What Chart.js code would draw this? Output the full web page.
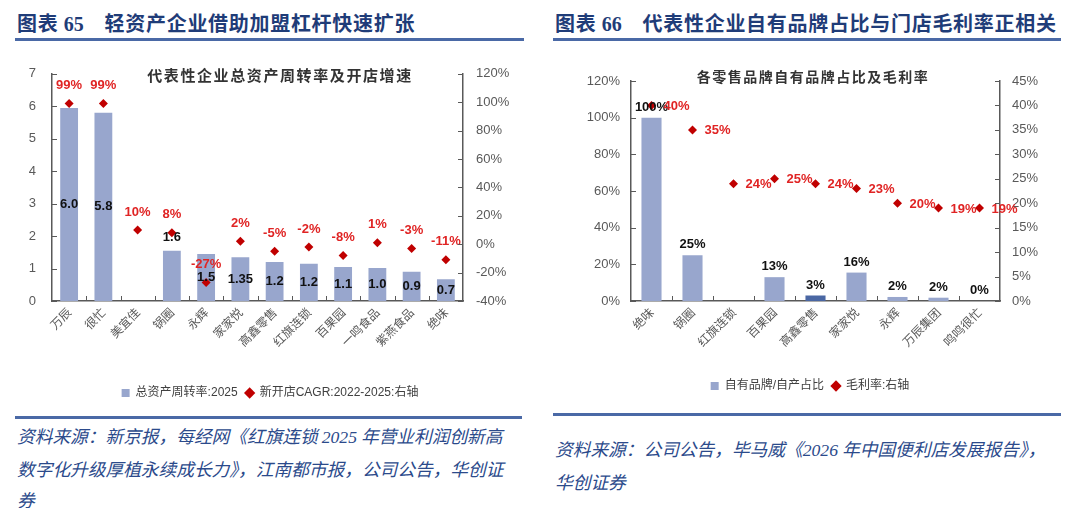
<!DOCTYPE html>
<html lang="zh-CN">
<head>
<meta charset="utf-8">
<script src="https://cdn.jsdelivr.net/npm/chart.js@4.4.1/dist/chart.umd.min.js"></script>
<style>
body{margin:0;width:1080px;height:508px;background:#fff;position:relative;overflow:hidden;font-family:"Noto Sans CJK SC",sans-serif;}
.ttl{position:absolute;top:9px;font-size:20px;font-weight:bold;color:#1F3C78;white-space:nowrap;line-height:28px;letter-spacing:0.7px}
.ttl .num{font-family:"Liberation Serif",serif;letter-spacing:0}
.rule{position:absolute;height:3px;background:#4A69A6}
.inner{position:absolute;font-weight:bold;color:#333;white-space:nowrap;text-align:center;line-height:20px}
.src{position:absolute;font-size:17.7px;font-style:italic;color:#2B4A8B;line-height:31px;white-space:nowrap}
.src .num{font-family:"Liberation Serif",serif}
canvas{position:absolute;top:50px}
</style>
</head>
<body>
<div class="ttl" style="left:17px">图表 <span class="num">65</span>&nbsp;&nbsp;&nbsp;&nbsp;轻资产企业借助加盟杠杆快速扩张</div>
<div class="ttl" style="left:555px">图表 <span class="num">66</span>&nbsp;&nbsp;&nbsp;&nbsp;代表性企业自有品牌占比与门店毛利率正相关</div>
<div class="rule" style="left:15px;width:509px;top:38px"></div>
<div class="rule" style="left:553px;width:508px;top:38px"></div>

<canvas id="c1" width="540" height="360" style="left:0"></canvas>
<canvas id="c2" width="540" height="360" style="left:540px"></canvas>

<div class="inner" style="left:130px;width:300px;top:65px;font-size:15px;letter-spacing:1.6px">代表性企业总资产周转率及开店增速</div>
<div class="inner" style="left:663px;width:300px;top:66px;font-size:14px;letter-spacing:1.5px">各零售品牌自有品牌占比及毛利率</div>

<div class="rule" style="left:15px;width:507px;top:416px"></div>
<div class="rule" style="left:553px;width:508px;top:413px"></div>

<div class="src" style="left:17px;top:420px">资料来源：新京报，每经网《红旗连锁 <span class="num">2025</span> 年营业利润创新高<br>数字化升级厚植永续成长力》，江南都市报，公司公告，华创证<br>券</div>
<div class="src" style="left:555px;top:433px">资料来源：公司公告，毕马威《<span class="num">2026</span> 年中国便利店发展报告》，<br>华创证券</div>

<script>
// 图表65 数据
const cats1 = ['万辰', '很忙', '美宜佳', '锅圈', '永辉', '家家悦', '高鑫零售', '红旗连锁', '百果园', '一鸣食品', '紫燕食品', '绝味'];
const turnover2025 = [5.95, 5.8, null, 1.55, 1.45, 1.35, 1.2, 1.15, 1.05, 1.02, 0.9, 0.67];
const turnoverText = ['6.0', '5.8', '', '1.6', '1.5', '1.35', '1.2', '1.2', '1.1', '1.0', '0.9', '0.7'];
const storeCagr = [99, 99, 10, 8, -27, 2, -5, -2, -8, 1, -3, -11];

// 图表66 数据
const cats2 = ['绝味', '锅圈', '红旗连锁', '百果园', '高鑫零售', '家家悦', '永辉', '万辰集团', '鸣鸣很忙'];
const ownBrandShare = [100, 25, null, 13, 3, 15.5, 2.2, 1.8, 0];
const ownBrandText = ['100%', '25%', '', '13%', '3%', '16%', '2%', '2%', '0%'];
const grossMargin = [40, 35, 24, 25, 24, 23, 20, 19, 19];

const barColor = '#98A6CD';
const darkBar = '#4A67A3';
const diamondColor = '#C00000';
const redText = '#E02424';
const axisColor = '#595959';

Chart.defaults.font.family = '"Liberation Sans", "Noto Sans CJK SC", sans-serif';
Chart.defaults.color = axisColor;
Chart.defaults.animation = false;

// 坐标轴内侧刻度线
const innerTicks = {
    id: 'innerTicks',
    afterDraw(chart) {
        const ctx = chart.ctx;
        const a = chart.chartArea;
        ctx.save();
        ctx.strokeStyle = axisColor;
        ctx.lineWidth = 1;
        const n = chart.scales.x.ticks.length;
        for (let i = 1; i < n; i++) {
            const px = Math.round(a.left + i * (a.right - a.left) / n) + 0.5;
            ctx.beginPath();
            ctx.moveTo(px, a.bottom);
            ctx.lineTo(px, a.bottom - 5);
            ctx.stroke();
        }
        ['y', 'y1'].forEach(id => {
            const s = chart.scales[id];
            const x0 = s.position === 'left' ? a.left : a.right;
            const dir = s.position === 'left' ? 1 : -1;
            s.ticks.forEach((t, i) => {
                const py = Math.round(s.getPixelForTick(i)) + 0.5;
                ctx.beginPath();
                ctx.moveTo(x0, py);
                ctx.lineTo(x0 + dir * 5, py);
                ctx.stroke();
            });
        });
        ctx.restore();
    }
};

function fixWidth(w) {
    return scale => { scale.width = w; };
}
function fixHeight(h) {
    return scale => { scale.height = h; };
}

function yAxis(pos, min, max, step, pct, width, pad) {
    return {
        position: pos,
        min: min,
        max: max,
        ticks: {
            stepSize: step,
            padding: pad,
            color: axisColor,
            font: { size: 13 },
            callback: v => pct ? v + '%' : v
        },
        grid: { display: false, drawTicks: false },
        border: { display: true, color: axisColor, width: 1.5 },
        afterFit: fixWidth(width)
    };
}

function xAxis(height) {
    return {
        ticks: {
            autoSkip: false,
            minRotation: 45,
            maxRotation: 45,
            padding: 4,
            color: axisColor,
            font: { size: 12, family: '"Noto Sans CJK SC", sans-serif' }
        },
        grid: { display: false, drawTicks: false },
        border: { display: true, color: axisColor, width: 1.5 },
        afterFit: fixHeight(height)
    };
}

function legendOpts() {
    return {
        position: 'bottom',
        labels: {
            usePointStyle: true,
            boxWidth: 8,
            boxHeight: 8,
            padding: 8,
            color: '#404040',
            font: { size: 12 },
            sort: (a, b) => a.datasetIndex - b.datasetIndex
        }
    };
}

// 图表65：数值标签
const labels1 = {
    id: 'labels1',
    afterDatasetsDraw(chart) {
        const ctx = chart.ctx;
        ctx.save();
        ctx.textAlign = 'center';
        ctx.textBaseline = 'middle';
        ctx.font = 'bold 13px "Liberation Sans"';
        ctx.fillStyle = redText;
        chart.getDatasetMeta(1).data.forEach((p, i) => {
            ctx.fillText(storeCagr[i] + '%', p.x, p.y - 18);
        });
        ctx.fillStyle = '#111';
        chart.getDatasetMeta(0).data.forEach((b, i) => {
            if (turnover2025[i] === null) return;
            // 锅圈的标签在柱子上方，其余在柱子中部
            const y = cats1[i] === '锅圈' ? b.y - 13 : (b.y + b.base) / 2;
            ctx.fillText(turnoverText[i], b.x, y);
        });
        ctx.restore();
    }
};

new Chart(document.getElementById('c1').getContext('2d'), {
    data: {
        labels: cats1,
        datasets: [
            {
                type: 'bar',
                label: '总资产周转率:2025',
                data: turnover2025,
                backgroundColor: barColor,
                barPercentage: 0.52,
                categoryPercentage: 1,
                pointStyle: 'rect',
                yAxisID: 'y',
                order: 1
            },
            {
                type: 'line',
                label: '新开店CAGR:2022-2025:右轴',
                data: storeCagr,
                showLine: false,
                pointStyle: 'rectRot',
                pointRadius: 4.5,
                backgroundColor: diamondColor,
                borderColor: diamondColor,
                borderWidth: 0,
                yAxisID: 'y1',
                order: 0
            }
        ]
    },
    options: {
        responsive: false,
        layout: { padding: { top: 17, bottom: 1, left: 0, right: 0 } },
        scales: {
            x: xAxis(78),
            y: yAxis('left', 0, 7, 1, false, 52, 16),
            y1: yAxis('right', -40, 120, 20, true, 77, 13)
        },
        plugins: {
            legend: legendOpts(),
            tooltip: { enabled: false }
        }
    },
    plugins: [innerTicks, labels1]
});

// 图表66：数值标签
const labels2 = {
    id: 'labels2',
    afterDatasetsDraw(chart) {
        const ctx = chart.ctx;
        ctx.save();
        ctx.font = 'bold 13px "Liberation Sans"';
        ctx.fillStyle = '#111';
        ctx.textAlign = 'center';
        ctx.textBaseline = 'bottom';
        chart.getDatasetMeta(0).data.forEach((b, i) => {
            if (ownBrandShare[i] === null) return;
            ctx.fillText(ownBrandText[i], b.x, b.y - 4);
        });
        ctx.fillStyle = redText;
        ctx.textAlign = 'left';
        ctx.textBaseline = 'middle';
        chart.getDatasetMeta(1).data.forEach((p, i) => {
            ctx.fillText(grossMargin[i] + '%', p.x + 12, p.y + 1);
        });
        ctx.restore();
    }
};

new Chart(document.getElementById('c2').getContext('2d'), {
    data: {
        labels: cats2,
        datasets: [
            {
                type: 'bar',
                label: '自有品牌/自产占比',
                data: ownBrandShare,
                backgroundColor: cats2.map(c => c === '高鑫零售' ? darkBar : barColor),
                barPercentage: 0.49,
                categoryPercentage: 1,
                pointStyle: 'rect',
                yAxisID: 'y',
                order: 1
            },
            {
                type: 'line',
                label: '毛利率:右轴',
                data: grossMargin,
                showLine: false,
                pointStyle: 'rectRot',
                pointRadius: 4.5,
                backgroundColor: diamondColor,
                borderColor: diamondColor,
                borderWidth: 0,
                yAxisID: 'y1',
                order: 0
            }
        ]
    },
    options: {
        responsive: false,
        layout: { padding: { top: 31, bottom: 8, left: 0, right: 0 } },
        scales: {
            x: xAxis(71),
            y: yAxis('left', 0, 120, 20, true, 91, 11),
            y1: yAxis('right', 0, 45, 5, true, 80, 12)
        },
        plugins: {
            legend: legendOpts(),
            tooltip: { enabled: false }
        }
    },
    plugins: [innerTicks, labels2]
});
</script>
</body>
</html>
